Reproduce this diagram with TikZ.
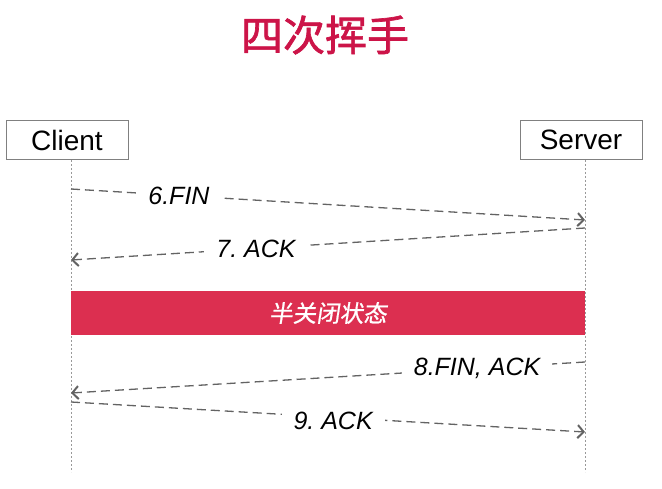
\documentclass[tikz,border=0pt]{standalone}
\usepackage{fontspec}
\setmainfont{Liberation Sans}
\newfontfamily\cjktitle[FakeBold=1.6]{Noto Sans CJK SC}
\newfontfamily\cjkslant[FakeSlant=0.15,FakeBold=0.8]{Noto Sans CJK SC}
\usepackage{xcolor}
\usetikzlibrary{arrows.meta, positioning}
\definecolor{titlered}{HTML}{CC1448}
\definecolor{barred}{HTML}{DC2F50}
\definecolor{msggray}{HTML}{636363}
\frenchspacing
\tikzset{
    party/.style={draw=black!50, line width=1pt, minimum width=122pt, minimum height=39pt, inner sep=0pt, font=\fontsize{28}{28}\selectfont},
    lifeline/.style={draw=black!40, line width=0.8pt, dash pattern=on 2pt off 2pt},
    msg/.style={draw=msggray, line width=1.3pt, dash pattern=on 9pt off 5pt, -{Straight Barb[length=6pt,width=13pt,line width=2pt]}},
    msglabel/.style={fill=white, inner xsep=12pt, inner ysep=2pt, font=\fontsize{25}{25}\selectfont\itshape},
    statebar/.style={fill=barred, minimum width=514pt, minimum height=44pt, inner sep=0pt, text=white, font=\fontsize{23.5}{23.5}\cjkslant}
}
\begin{document}
\begin{tikzpicture}[x=1pt, y=-1pt]
        \useasboundingbox (0,0) rectangle (662,489);
        % Title
        \node (title) at (325,35) [text=titlered, font=\fontsize{42}{42}\cjktitle] {四次挥手};

        % Parties
        \node (client) [party] at (67,140) {Client};
        \node (server) [party] at (581,140) {Server};

        % Lifelines
        \coordinate (clienttop) at (71,160);
        \coordinate (clientend) at (71,472);
        \coordinate (servertop) at (585,160);
        \coordinate (serverend) at (585,472);
        \draw [lifeline] (clienttop) -- (clientend);
        \draw [lifeline] (servertop) -- (serverend);

        % Half-closed state
        \node (halfclose) [statebar] at (328,313) {半关闭状态};

        % Message ends
        \coordinate (c6) at (71,189);  \coordinate (s6) at (585,220);
        \coordinate (s7) at (585,228); \coordinate (c7) at (71,260);
        \coordinate (s8) at (585,362); \coordinate (c8) at (71,393);
        \coordinate (c9) at (71,402);  \coordinate (s9) at (585,432);

        % Messages
        \draw [msg] (c6) -- node[msglabel, pos=0.21] {6.FIN} (s6);
        \draw [msg] (s7) -- node[msglabel, pos=0.64] {7. ACK} (c7);
        \draw [msg] (s8) -- node[msglabel, pos=0.21] {8.FIN, ACK} (c8);
        \draw [msg] (c9) -- node[msglabel, pos=0.51, yshift=-4pt] {9. ACK} (s9);
    \end{tikzpicture}
\end{document}
